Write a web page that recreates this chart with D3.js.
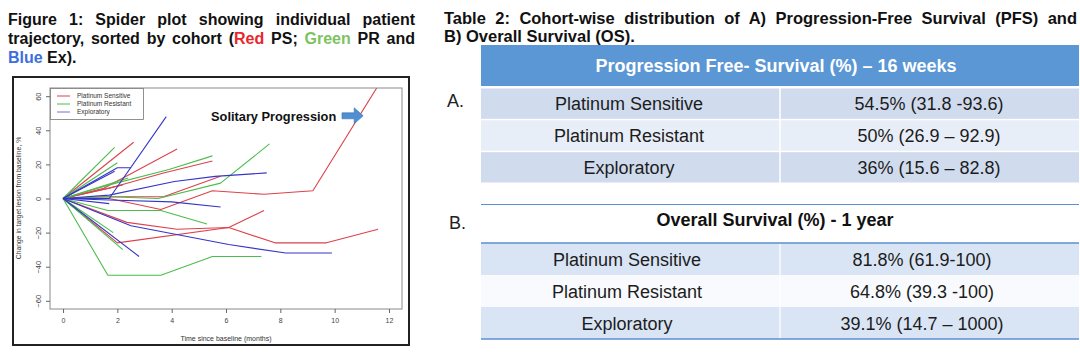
<!DOCTYPE html>
<html>
<head>
<meta charset="utf-8">
<script src="https://cdn.jsdelivr.net/npm/d3@7"></script>
<style>
  body { margin: 0; background: #fff; }
  text { font-family: "Liberation Sans", Arial, Helvetica, sans-serif; white-space: pre; }
</style>
</head>
<body>
<svg id="fig" width="1080" height="358"></svg>
<script>
// ---- data ----
const xTicks = [0, 2, 4, 6, 8, 10, 12];
const yTicks = [-60, -40, -20, 0, 20, 40, 60];
const legendLabels = ["Platinum Sensitive", "Platinum Resistant", "Exploratory"];

// each patient: [months, % change]
const sensitivePatients = [
  [[0, 0], [2.6, 33]],
  [[0, 0], [1.5, 6], [4.2, 29]],
  [[0, 0], [1.7, 6], [3.7, 15], [5.5, 22]],
  [[0, 0], [1.7, 1], [3.7, 1], [5.8, 13]],
  [[0, 0], [1.7, 0], [3.6, -6.5], [5.5, 4.5], [7.4, 2.5], [9.2, 4.5], [11.75, 70]],
  [[0, 0], [2.2, 8]],
  [[0, 0], [2.35, -14], [4.2, -18], [6.1, -17], [7.8, -26], [9.7, -26], [11.6, -18]],
  [[0, 0], [2.0, -26], [6.1, -17], [7.4, -7]]
];
const resistantPatients = [
  [[0, 0], [1.9, 30]],
  [[0, 0], [2.0, 21]],
  [[0, 0], [2.4, 12]],
  [[0, 0], [1.7, 8], [3.9, 17], [5.5, 25]],
  [[0, 0], [1.7, 1], [3.5, 0], [5.8, 9], [7.6, 32]],
  [[0, 0], [1.65, -7], [3.6, -7], [5.3, -15]],
  [[0, 0], [1.65, -45], [3.6, -45], [5.5, -34], [7.3, -34]],
  [[0, 0], [1.85, -20]],
  [[0, 0], [2.2, -30]]
];
const exploratoryPatients = [
  [[0, 0], [1.7, 0], [3.8, 48]],
  [[0, 0], [2.0, 18], [2.5, 18]],
  [[0, 0], [1.9, 16]],
  [[0, 0], [1.7, 2], [4.1, 10], [5.6, 13], [7.5, 15]],
  [[0, 0], [2.0, -1], [4.0, -2], [5.8, -5]],
  [[0, 0], [2.5, -16], [6.1, -27], [8.2, -32], [9.9, -32]],
  [[0, 0], [2.8, -34]],
  [[0, 0], [1.7, -3]]
];

const cohorts = ["Platinum Sensitive", "Platinum Resistant", "Exploratory"];
const pfsValues = ["54.5% (31.8 -93.6)", "50% (26.9 \u2013 92.9)", "36% (15.6 \u2013 82.8)"];
const osValues = ["81.8% (61.9-100)", "64.8% (39.3 -100)", "39.1% (14.7 \u2013 1000)"];

// ---- styling ----
const RED = "#dc424b", GREEN = "#4cbd4c", BLUE = "#3535c8";
const svg = d3.select("#fig");
svg.append("rect").attr("width", 1080).attr("height", 358).attr("fill", "#fff");

// justified caption lines
function captionLine(x, y, width, parts, justify, size) {
  const t = svg.append("text")
    .attr("x", x).attr("y", y)
    .style("font-weight", "bold")
    .style("font-size", size + "px");
  parts.forEach(p => t.append("tspan").attr("fill", p[1]).text(p[0]));
  if (justify) {
    const full = parts.map(p => p[0]).join("");
    const n = (full.match(/ /g) || []).length;
    const w = t.node().getComputedTextLength();
    t.style("word-spacing", ((width - w) / n) + "px");
  }
}

captionLine(8, 25, 407, [["Figure 1: Spider plot showing individual patient", "#111"]], true, 16);
captionLine(8, 44, 407, [["trajectory, sorted by cohort (", "#111"], ["Red", "#e8262c"],
  [" PS; ", "#111"], ["Green", "#7cc35f"], [" PR and", "#111"]], true, 16);
captionLine(8, 63, 407, [["Blue", "#3d6fdc"], [" Ex).", "#111"]], false, 16);

captionLine(444, 24, 633, [["Table 2: Cohort-wise distribution of A) Progression-Free Survival (PFS) and", "#111"]], true, 16.5);
captionLine(444, 41.5, 633, [["B) Overall Survival (OS).", "#111"]], false, 16.5);

// ---- spider plot ----
svg.append("rect").attr("x", 13).attr("y", 77).attr("width", 396).attr("height", 268)
  .attr("fill", "none").attr("stroke", "#222").attr("stroke-width", 2);

const x = d3.scaleLinear().domain([-0.48, 12.48]).range([50, 402]);
const y = d3.scaleLinear().domain([-64.8, 64.8]).range([309, 88]);

svg.append("clipPath").attr("id", "plotClip")
  .append("rect").attr("x", 50).attr("y", 88).attr("width", 352).attr("height", 221);

const line = d3.line().x(d => x(d[0])).y(d => y(d[1]));
const plot = svg.append("g").attr("clip-path", "url(#plotClip)");

[[sensitivePatients, RED], [resistantPatients, GREEN], [exploratoryPatients, BLUE]].forEach(([set, col]) => {
  plot.selectAll(null).data(set).enter().append("path")
    .attr("d", line)
    .attr("fill", "none")
    .attr("stroke", col)
    .attr("stroke-width", 1.1)
    .attr("stroke-linejoin", "round");
});

svg.append("rect").attr("x", 50).attr("y", 88).attr("width", 352).attr("height", 221)
  .attr("fill", "none").attr("stroke", "#8a8a8a").attr("stroke-width", 1);

const xAxis = svg.append("g").attr("transform", "translate(0,309)")
  .call(d3.axisBottom(x).tickValues(xTicks).tickSize(4).tickPadding(5).tickSizeOuter(0));
xAxis.select(".domain").remove();
xAxis.selectAll("line").attr("stroke", "#666");
xAxis.selectAll("text").attr("fill", "#444").style("font-size", "7px")
  .style("font-family", "'Liberation Sans', Arial, sans-serif");

const yAxis = svg.append("g").attr("transform", "translate(50,0)")
  .call(d3.axisLeft(y).tickValues(yTicks).tickSize(4).tickSizeOuter(0));
yAxis.select(".domain").remove();
yAxis.selectAll("line").attr("stroke", "#666");
yAxis.selectAll("text")
  .attr("x", 0).attr("y", -9).attr("dy", 0)
  .attr("transform", "rotate(-90)")
  .attr("text-anchor", "middle")
  .attr("fill", "#444").style("font-size", "7.5px")
  .style("font-family", "'Liberation Sans', Arial, sans-serif");

svg.append("text").attr("x", 226).attr("y", 341).attr("text-anchor", "middle")
  .style("font-size", "7px").attr("fill", "#333").text("Time since baseline (months)");
svg.append("text").attr("transform", "translate(21,198) rotate(-90)").attr("text-anchor", "middle")
  .style("font-size", "6.8px").attr("fill", "#333").text("Change in target lesion from baseline, %");

// legend
svg.append("rect").attr("x", 50.5).attr("y", 88.5).attr("width", 93).attr("height", 31)
  .attr("fill", "#fff").attr("stroke", "#777").attr("stroke-width", 0.8);
const legend = svg.selectAll(".leg").data(legendLabels).enter().append("g")
  .attr("transform", (d, i) => `translate(0,${96 + i * 8})`);
legend.append("line").attr("x1", 57).attr("x2", 70)
  .attr("stroke", (d, i) => [RED, GREEN, "#7a6fd0"][i]).attr("stroke-width", 1);
legend.append("text").attr("x", 77).attr("dy", "0.35em")
  .style("font-size", "6.5px").attr("fill", "#333").text(d => d);

// annotation
svg.append("text").attr("x", x(5.45)).attr("y", y(45.5))
  .style("font-weight", "bold").style("font-size", "12.8px").attr("fill", "#111")
  .text("Solitary Progression");
const ax0 = x(10.27), ax1 = x(11.05), ay = y(48.5);
svg.append("path")
  .attr("d", `M${ax0},${ay - 3} L${ax1 - 9},${ay - 3} L${ax1 - 9},${ay - 8} L${ax1},${ay} L${ax1 - 9},${ay + 8} L${ax1 - 9},${ay + 3} L${ax0},${ay + 3} Z`)
  .attr("fill", "#4f8fd2").attr("stroke", "#3f74b0").attr("stroke-width", 0.6);

// ---- table A ----
const tLeft = 481, tRight = 1079, tDiv = 780;
svg.append("text").attr("x", 447).attr("y", 107).style("font-size", "18px").attr("fill", "#222").text("A.");
svg.append("rect").attr("x", tLeft).attr("y", 45).attr("width", tRight - tLeft).attr("height", 41)
  .attr("fill", "#5b97d5");
svg.append("text").attr("x", 776).attr("y", 72).attr("text-anchor", "middle")
  .style("font-size", "18px").style("font-weight", "bold").attr("fill", "#fff")
  .text("Progression Free- Survival (%) \u2013 16 weeks");

const rowsA = d3.scaleBand().domain(cohorts).range([87.5, 183]);
const gA = svg.selectAll(".rowA").data(cohorts).enter().append("g");
gA.append("rect").attr("x", tLeft).attr("y", d => rowsA(d) + 1)
  .attr("width", tRight - tLeft).attr("height", rowsA.bandwidth() - 1.5)
  .attr("fill", (d, i) => i === 1 ? "#e8eef7" : "#d0dcee");
gA.append("text").attr("x", 629).attr("y", d => rowsA(d) + rowsA.bandwidth() / 2 + 6.5)
  .attr("text-anchor", "middle").style("font-size", "18px").attr("fill", "#1c1c1c").text(d => d);
gA.append("text").attr("x", 929).attr("y", d => rowsA(d) + rowsA.bandwidth() / 2 + 6.5)
  .attr("text-anchor", "middle").style("font-size", "18px").attr("fill", "#1c1c1c")
  .text((d, i) => pfsValues[i]);
svg.append("line").attr("x1", tDiv).attr("x2", tDiv).attr("y1", 88).attr("y2", 183)
  .attr("stroke", "#fff").attr("stroke-width", 1.5);

// ---- table B ----
svg.append("text").attr("x", 449).attr("y", 229).style("font-size", "18px").attr("fill", "#222").text("B.");
svg.append("line").attr("x1", tLeft).attr("x2", tRight).attr("y1", 204.5).attr("y2", 204.5)
  .attr("stroke", "#5b8fcf").attr("stroke-width", 1.2);
svg.append("text").attr("x", 775).attr("y", 226).attr("text-anchor", "middle")
  .style("font-size", "18px").style("font-weight", "bold").attr("fill", "#111")
  .text("Overall Survival (%) - 1 year");

const rowsB = d3.scaleBand().domain(cohorts).range([243, 339]);
const gB = svg.selectAll(".rowB").data(cohorts).enter().append("g");
gB.append("rect").attr("x", tLeft).attr("y", d => rowsB(d))
  .attr("width", tRight - tLeft).attr("height", rowsB.bandwidth())
  .attr("fill", (d, i) => i === 1 ? "#f8fafd" : "#d9e5f4");
gB.append("text").attr("x", 627).attr("y", d => rowsB(d) + rowsB.bandwidth() / 2 + 6.5)
  .attr("text-anchor", "middle").style("font-size", "18px").attr("fill", "#1c1c1c").text(d => d);
gB.append("text").attr("x", 922).attr("y", d => rowsB(d) + rowsB.bandwidth() / 2 + 6.5)
  .attr("text-anchor", "middle").style("font-size", "18px").attr("fill", "#1c1c1c")
  .text((d, i) => osValues[i]);
svg.append("line").attr("x1", tDiv).attr("x2", tDiv).attr("y1", 243).attr("y2", 339)
  .attr("stroke", "#fff").attr("stroke-width", 1.2);
[243, 339].forEach(v => svg.append("line").attr("x1", tLeft).attr("x2", tRight)
  .attr("y1", v).attr("y2", v).attr("stroke", "#5b8fcf").attr("stroke-width", 1.3));
</script>
</body>
</html>
